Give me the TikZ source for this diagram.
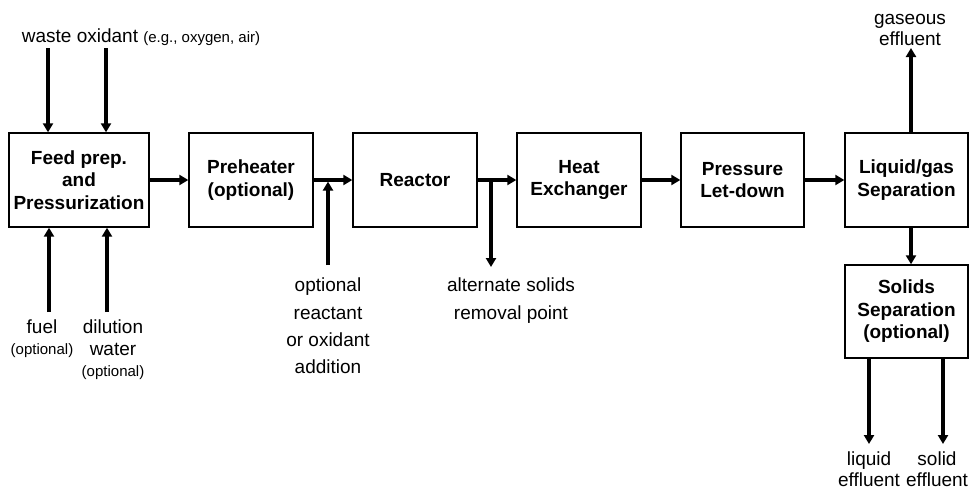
\documentclass[tikz,border=0pt]{standalone}
\usepackage{fontspec}
\setmainfont{Liberation Sans}
\usetikzlibrary{arrows.meta,calc}
\begin{document}
\begin{tikzpicture}[x=1pt,y=-1pt,
  box/.style={draw,line width=1.4pt,minimum height=94pt,inner sep=0pt,align=center,
    font=\bfseries\fontsize{19}{22.5}\selectfont},
  arr/.style={line width=3.2pt,-{Triangle[length=9pt,width=10pt]}},
  lab/.style={inner sep=0pt,align=center,font=\fontsize{19}{21}\selectfont},
  tall/.style={inner sep=0pt,align=center,font=\fontsize{19}{27.3}\selectfont}]
\useasboundingbox (0,0) rectangle (973,490);
% boxes
\node[box,minimum width=140pt] (feed) at (79,180) {Feed prep.\\and\\Pressurization};
\node[box,minimum width=124pt] (pre) at (251,180) {Preheater\\(optional)};
\node[box,minimum width=124pt] (reac) at (415,180) {Reactor};
\node[box,minimum width=124pt] (hx) at (579,180) {Heat\\Exchanger};
\node[box,minimum width=123pt] (pld) at (742.5,180) {Pressure\\Let-down};
\node[box,minimum width=123pt] (lgs) at (906.5,180) {Liquid/gas\\Separation};
\node[box,minimum width=123pt,minimum height=93pt] (sol) at (906.5,311.5) {Solids\\Separation\\(optional)};
% labels
\node[lab] (wo) at (141,37) {waste oxidant {\fontsize{15}{17}\selectfont (e.g., oxygen, air)}};
\node[lab] (fuel) at (42,339) {fuel\\{\fontsize{15}{17}\selectfont (optional)}};
\node[lab,font=\fontsize{19}{21.5}\selectfont] (dil) at (113,350) {dilution\\water\\{\fontsize{15}{17}\selectfont (optional)}};
\node[tall] (optl) at (328,326) {optional\\reactant\\or oxidant\\addition};
\node[tall] (altl) at (511,300.5) {alternate solids\\removal point};
\node[lab] (gasl) at (910,29.5) {gaseous\\effluent};
\node[lab] (liql) at (869,469) {liquid\\effluent};
\node[lab] (soll) at (937,469) {solid\\effluent};
% free ends
\coordinate (wo1) at (48,48);
\coordinate (wo2) at (106,48);
\coordinate (fu1) at (49,312);
\coordinate (di1) at (107,312);
\coordinate (op1) at (328,265);
\coordinate (al1) at (491,267);
\coordinate (ga1) at (911,48);
\coordinate (li1) at (869,444);
\coordinate (so1) at (943,444);
% connectors
\draw[arr] (wo1) -- (wo1 |- feed.north);
\draw[arr] (wo2) -- (wo2 |- feed.north);
\draw[arr] (fu1) -- (fu1 |- feed.south);
\draw[arr] (di1) -- (di1 |- feed.south);
\draw[arr] (feed.east) -- (pre.west);
\draw[arr] (pre.east) -- (reac.west);
\draw[arr] (op1) -- ($(op1 |- pre.east)+(0,1.6)$);
\draw[arr] (reac.east) -- (hx.west);
\draw[arr] ($(al1 |- reac.east)+(0,-1.6)$) -- (al1);
\draw[arr] (hx.east) -- (pld.west);
\draw[arr] (pld.east) -- (lgs.west);
\draw[arr] (ga1 |- lgs.north) -- (ga1);
\draw[arr] (lgs.south -| ga1) -- (sol.north -| ga1);
\draw[arr] (li1 |- sol.south) -- (li1);
\draw[arr] (so1 |- sol.south) -- (so1);
\end{tikzpicture}
\end{document}
